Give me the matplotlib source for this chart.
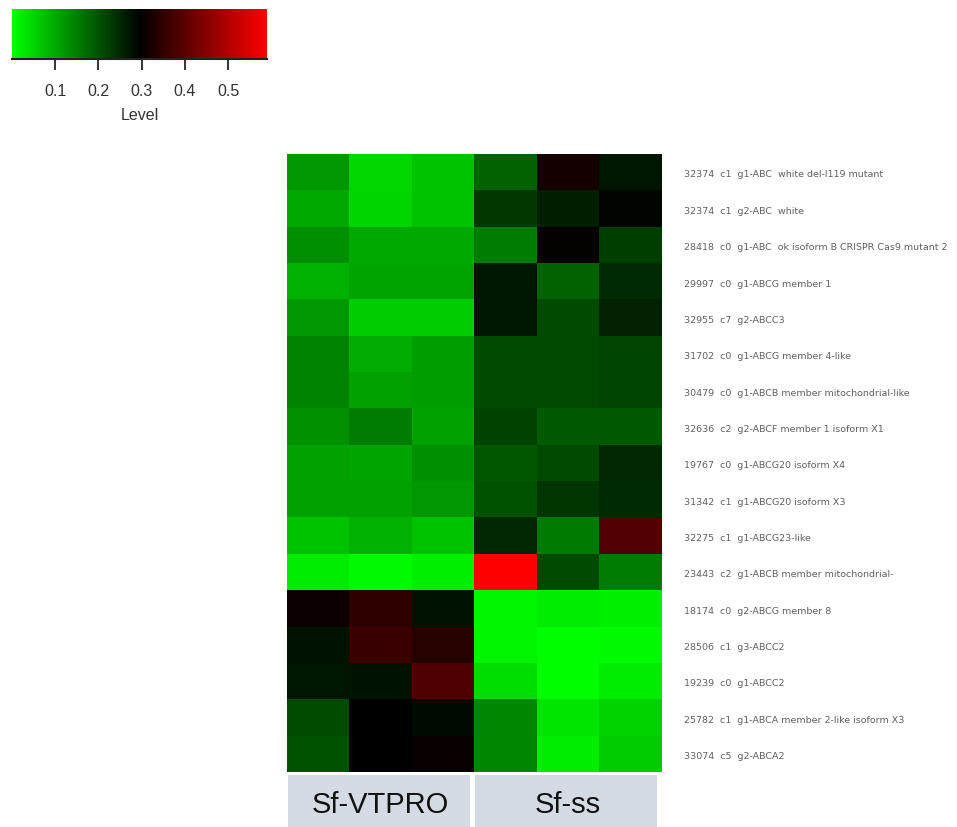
import numpy as np
import matplotlib
matplotlib.use("Agg")
import matplotlib.pyplot as plt
from matplotlib.colors import LinearSegmentedColormap
from matplotlib.patches import Rectangle

# row labels (top to bottom)
genes = [
    "32374  c1  g1-ABC  white del-l119 mutant",
    "32374  c1  g2-ABC  white",
    "28418  c0  g1-ABC  ok isoform B CRISPR Cas9 mutant 2",
    "29997  c0  g1-ABCG member 1",
    "32955  c7  g2-ABCC3",
    "31702  c0  g1-ABCG member 4-like",
    "30479  c0  g1-ABCB member mitochondrial-like",
    "32636  c2  g2-ABCF member 1 isoform X1",
    "19767  c0  g1-ABCG20 isoform X4",
    "31342  c1  g1-ABCG20 isoform X3",
    "32275  c1  g1-ABCG23-like",
    "23443  c2  g1-ABCB member mitochondrial-",
    "18174  c0  g2-ABCG member 8",
    "28506  c1  g3-ABCC2",
    "19239  c0  g1-ABCC2",
    "25782  c1  g1-ABCA member 2-like isoform X3",
    "33074  c5  g2-ABCA2",
]

groups = ["Sf-VTPRO", "Sf-ss"]
reps_per_group = [3, 3]

# expression level, one column per sample
sf_vtpro_1 = [0.12, 0.10, 0.13, 0.09, 0.12, 0.145, 0.145, 0.128, 0.11, 0.11, 0.07, 0.023, 0.31, 0.272, 0.27, 0.208, 0.20]
sf_vtpro_2 = [0.047, 0.05, 0.10, 0.105, 0.058, 0.095, 0.11, 0.15, 0.105, 0.11, 0.09, 0.006, 0.35, 0.36, 0.274, 0.295, 0.295]
sf_vtpro_3 = [0.07, 0.07, 0.10, 0.105, 0.058, 0.115, 0.115, 0.11, 0.13, 0.12, 0.07, 0.017, 0.272, 0.34, 0.385, 0.283, 0.305]
sf_ss_1 = [0.18, 0.23, 0.15, 0.27, 0.27, 0.21, 0.21, 0.22, 0.195, 0.20, 0.25, 0.59, 0.012, 0.012, 0.04, 0.14, 0.14]
sf_ss_2 = [0.32, 0.26, 0.30, 0.18, 0.21, 0.21, 0.21, 0.19, 0.21, 0.235, 0.156, 0.21, 0.023, 0.003, 0.003, 0.03, 0.023]
sf_ss_3 = [0.27, 0.29, 0.225, 0.245, 0.255, 0.215, 0.215, 0.19, 0.25, 0.245, 0.39, 0.15, 0.017, 0.006, 0.023, 0.052, 0.058]

cbar_ticks = [0.1, 0.2, 0.3, 0.4, 0.5]
vmin, vmax = 0.0, 0.59

data = np.column_stack([sf_vtpro_1, sf_vtpro_2, sf_vtpro_3, sf_ss_1, sf_ss_2, sf_ss_3])

cmap = LinearSegmentedColormap.from_list("gbr", ["#00ff00", "#000000", "#ff0000"])

W, H = 957, 828
fig = plt.figure(figsize=(W / 100, H / 100), dpi=100)

def box(x0, y0, x1, y1):
    # pixel box (top-left origin) -> figure fraction
    return [x0 / W, 1 - y1 / H, (x1 - x0) / W, (y1 - y0) / H]

# heatmap
ax = fig.add_axes(box(287, 155, 662, 773))
im = ax.imshow(data, cmap=cmap, vmin=vmin, vmax=vmax, aspect="auto", interpolation="nearest")
ax.set_xticks([])
ax.set_yticks([])
for s in ax.spines.values():
    s.set_visible(False)

# row labels on the right
for i, g in enumerate(genes):
    ax.text(data.shape[1] - 0.5 + 0.35, i + 0.05, g, fontsize=6.8, color="#606060",
            va="center", ha="left", family="DejaVu Sans", clip_on=False)

# group label strip
sax = fig.add_axes(box(287, 776, 662, 828))
sax.set_xlim(-0.5, data.shape[1] - 0.5)
sax.set_ylim(0, 1)
sax.axis("off")
start = -0.5
for name, n in zip(groups, reps_per_group):
    sax.add_patch(Rectangle((start + 0.01, 0), n - 0.09, 1, color="#d5dbe5", lw=0))
    sax.text(start + n / 2, 0.45, name, ha="center", va="center",
             fontsize=21, family="Liberation Sans", color="#111111")
    start += n

# colour key
cax = fig.add_axes(box(12, 10, 267, 60))
cb = fig.colorbar(im, cax=cax, orientation="horizontal", ticks=cbar_ticks)
cb.outline.set_visible(False)
cax.axhline(0, color="#222222", lw=1.5, clip_on=False)
cax.tick_params(length=8, width=1.3, color="#222222", pad=9, labelsize=11.5, labelcolor="#333333")
for t in cax.get_xticklabels():
    t.set_family("Liberation Sans")
cax.set_xlabel("Level", fontsize=11.5, family="Liberation Sans", color="#333333", labelpad=7)

fig.savefig("out.png", dpi=100)
